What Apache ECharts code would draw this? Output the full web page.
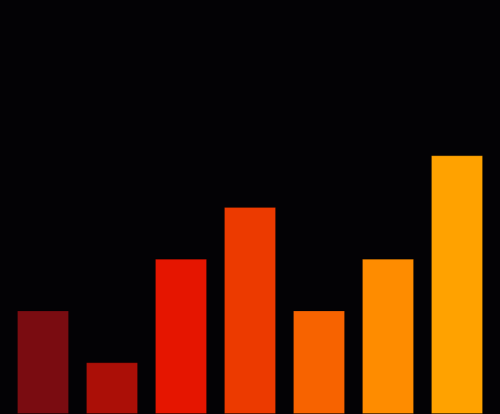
<!DOCTYPE html>
<html>
<head>
<meta charset="utf-8">
<script src="https://cdn.jsdelivr.net/npm/echarts@6/dist/echarts.min.js"></script>
<style>
  html, body { margin: 0; padding: 0; background: #030205; }
  #main { width: 500px; height: 414px; }
</style>
</head>
<body>
<div id="main"></div>
<script>
var categories = ['A', 'B', 'C', 'D', 'E', 'F', 'G'];
var values = [2, 1, 3, 4, 2, 3, 5];
var barColors = ['#7a0c11', '#ab0f07', '#e51500', '#ec3a00', '#f76300', '#fe8c00', '#ffa200'];

var chart = echarts.init(document.getElementById('main'));

var option = {
    backgroundColor: '#030205',
    animation: false,
    grid: { left: 8.5, right: 8.5, top: 0, bottom: 0 },
    xAxis: {
        type: 'category',
        data: categories,
        show: false
    },
    yAxis: {
        type: 'value',
        min: 0,
        max: 8,
        show: false
    },
    series: [{
        type: 'bar',
        barWidth: 52,
        data: values.map(function (v, i) {
            return {
                value: v,
                itemStyle: {
                    color: barColors[i],
                    borderColor: 'rgba(0,0,0,0.18)',
                    borderWidth: 1
                }
            };
        })
    }]
};

chart.setOption(option);
</script>
</body>
</html>
